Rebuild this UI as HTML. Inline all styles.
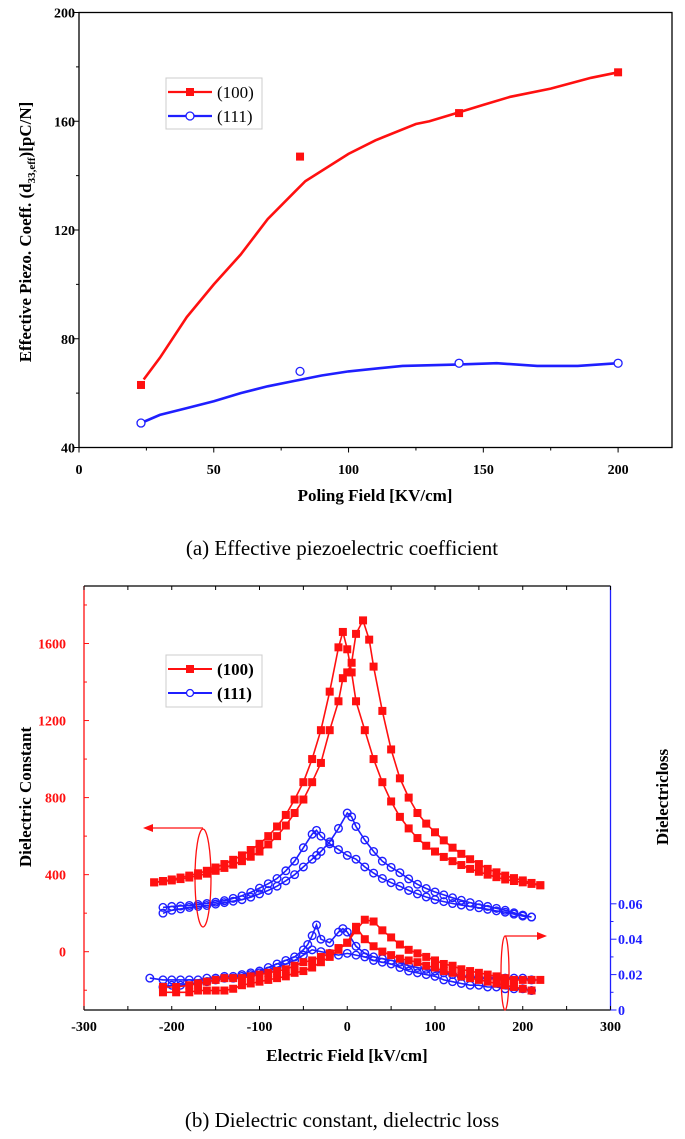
<!DOCTYPE html>
<html><head><meta charset="utf-8">
<style>
html,body{margin:0;padding:0;background:#fff;}
body{width:685px;height:1134px;overflow:hidden;font-family:"Liberation Serif",serif;}
svg text{font-family:"Liberation Serif",serif;}
</style></head>
<body>
<svg id="chart" width="685" height="1134" viewBox="0 0 685 1134" xmlns="http://www.w3.org/2000/svg">
<g id="top"></g>
<g id="bot"></g>
<text x="342" y="555" text-anchor="middle" font-size="21">(a) Effective piezoelectric coefficient</text>
<text x="342" y="1127" text-anchor="middle" font-size="21">(b) Dielectric constant, dielectric loss</text>
</svg>
<script>
// ---------- Chart (a) data ----------
const aXTicks=[0,50,100,150,200];
const aYTicks=[40,80,120,160,200];
const p100X=[23,82,141,200];
const p100Y=[63,147,163,178];
const p111X=[23,82,141,200];
const p111Y=[49,68,71,71];
const fit100X=[24,30,40,50,60,70,80,84,100,110,125,130,140,150,160,175,190,200];
const fit100Y=[65,73,88,100,111,124,134,138,148,153,159,160,163,166,169,172,176,178];
const fit111X=[23,30,40,50,60,70,80,90,100,120,140,155,170,185,200];
const fit111Y=[49,52,54.5,57,60,62.5,64.5,66.5,68,70,70.5,71,70,70,71];

// ---------- Chart (b) data ----------
const bXTicks=[-300,-200,-100,0,100,200,300];
const bYTicks=[0,400,800,1200,1600];
const bRTicks=[0,0.02,0.04,0.06];
const dc100X_A=[-220,-210,-200,-190,-180,-170,-160,-150,-140,-130,-120,-110,-100,-90,-80,-70,-60,-50,-40,-30,-20,-10,-5,0,5,10,20,30,40,50,60,70,80,90,100,110,120,130,140,150,160,170,180,190,200,210,220];
const dc100Y_A=[360,367,375,385,395,407,420,437,455,477,500,528,560,600,650,710,790,880,1000,1150,1350,1580,1660,1570,1450,1300,1150,1000,880,780,700,640,590,550,520,492,470,450,430,415,400,387,375,367,360,352,345];
const dc100X_B=[-220,-210,-200,-190,-180,-170,-160,-150,-140,-130,-120,-110,-100,-90,-80,-70,-60,-50,-40,-30,-20,-10,-5,0,5,10,18,25,30,40,50,60,70,80,90,100,110,120,130,140,150,160,170,180,190,200,210,220];
const dc100Y_B=[360,365,370,377,385,395,405,420,435,452,470,493,520,557,600,655,720,790,880,980,1150,1300,1420,1450,1500,1650,1720,1620,1480,1250,1050,900,800,720,665,620,578,540,508,480,455,430,412,395,382,370,357,345];
const dc111X_A=[-210,-200,-190,-180,-170,-160,-150,-140,-130,-120,-110,-100,-90,-80,-70,-60,-50,-40,-35,-30,-20,-10,0,10,20,30,40,50,60,70,80,90,100,110,120,130,140,150,160,170,180,190,200,210];
const dc111Y_A=[230,235,237,240,245,250,257,265,277,290,308,330,353,380,420,470,540,610,630,600,560,530,500,480,440,408,380,358,340,318,300,284,270,260,250,242,235,228,220,212,205,195,185,180];
const dc111X_B=[-210,-200,-190,-180,-170,-160,-150,-140,-130,-120,-110,-100,-90,-80,-70,-60,-50,-40,-35,-30,-20,-10,0,5,10,20,30,40,50,60,70,80,90,100,110,120,130,140,150,160,170,180,190,200,210];
const dc111Y_B=[200,215,222,230,235,240,247,255,262,270,283,300,318,340,368,400,440,480,500,520,570,640,720,700,650,580,520,470,438,410,378,350,328,310,295,280,267,255,245,235,225,215,202,190,180];
const ls100X_A=[-210,-195,-180,-170,-160,-150,-140,-130,-120,-110,-100,-90,-80,-70,-60,-50,-40,-30,-20,-10,0,10,20,30,40,50,60,70,80,90,100,110,120,130,140,150,160,170,180,190,200,210,220];
const ls100Y_A=[0.013,0.013,0.014,0.015,0.016,0.017,0.018,0.018,0.018,0.019,0.020,0.021,0.022,0.023,0.025,0.027,0.028,0.030,0.032,0.035,0.038,0.045,0.051,0.050,0.045,0.041,0.037,0.034,0.032,0.030,0.028,0.026,0.025,0.023,0.022,0.021,0.020,0.019,0.018,0.017,0.017,0.017,0.017];
const ls100X_B=[-210,-195,-180,-170,-160,-150,-140,-130,-120,-110,-100,-90,-80,-70,-60,-50,-40,-30,-20,-10,0,10,20,30,40,50,60,70,80,90,100,110,120,130,140,150,160,170,180,190,200,210];
const ls100Y_B=[0.010,0.010,0.010,0.011,0.011,0.011,0.011,0.012,0.014,0.015,0.016,0.017,0.018,0.019,0.021,0.022,0.024,0.027,0.030,0.034,0.038,0.047,0.040,0.036,0.033,0.031,0.029,0.028,0.027,0.025,0.024,0.022,0.021,0.019,0.018,0.017,0.016,0.015,0.014,0.013,0.012,0.011];
const ls111X_A=[-225,-210,-200,-190,-180,-170,-160,-150,-140,-130,-120,-110,-100,-90,-80,-70,-60,-50,-45,-40,-35,-30,-20,-10,-5,0,10,20,30,40,50,60,70,80,90,100,110,120,130,140,150,160,170,180,190,200,210];
const ls111Y_A=[0.018,0.017,0.017,0.017,0.017,0.017,0.018,0.018,0.019,0.019,0.020,0.021,0.022,0.024,0.026,0.028,0.030,0.034,0.037,0.042,0.048,0.040,0.038,0.044,0.046,0.044,0.036,0.032,0.030,0.029,0.028,0.027,0.025,0.024,0.023,0.022,0.021,0.020,0.019,0.019,0.018,0.018,0.018,0.018,0.018,0.018,0.017];
const ls111X_B=[-210,-200,-190,-180,-170,-160,-150,-140,-130,-120,-110,-100,-90,-80,-70,-60,-50,-40,-30,-20,-10,0,10,20,30,40,50,60,70,80,90,100,110,120,130,140,150,160,170,180,190,200,210];
const ls111Y_B=[0.013,0.014,0.014,0.015,0.015,0.016,0.017,0.018,0.018,0.019,0.020,0.021,0.022,0.024,0.026,0.028,0.031,0.034,0.033,0.032,0.031,0.032,0.031,0.030,0.028,0.027,0.026,0.024,0.022,0.021,0.020,0.019,0.017,0.016,0.015,0.014,0.014,0.013,0.013,0.012,0.012,0.012,0.011];

const NS="http://www.w3.org/2000/svg";
const RED="#ff1010", BLUE="#1f1fff";
function mk(parent,tag,attrs){const e=document.createElementNS(NS,tag);for(const k in attrs)e.setAttribute(k,attrs[k]);parent.appendChild(e);return e;}
function pts(xs,ys,fx,fy){return xs.map((x,i)=>fx(x).toFixed(1)+","+fy(ys[i]).toFixed(1)).join(" ");}

// ===== Chart (a) =====
(function(){
const g=document.getElementById('top');
const L=79,R=672,T=12.5,B=447.5;
const fx=v=>L+(v-0)/(220-0)*(R-L);
const fy=v=>B-(v-40)/(200-40)*(B-T);
let e=mk(g,'rect',{x:L,y:T,width:R-L,height:B-T,fill:'none',stroke:'#000','stroke-width':1.3});


for(let v=0;v<=200;v+=25){
  e=mk(g,'line',{x1:fx(v),x2:fx(v),y1:B,y2:B+(v%50?3:5),stroke:'#000','stroke-width':1});
  
  
}
aXTicks.forEach(v=>{
  e=mk(g,'text',{x:fx(v),y:474,'text-anchor':'middle','font-size':14,'font-weight':'bold'});e.textContent=v;
  
  
});
for(let v=40;v<=200;v+=20){
  e=mk(g,'line',{x1:L-(v%40?3:5),x2:L,y1:fy(v),y2:fy(v),stroke:'#000','stroke-width':1});
  
  
}
aYTicks.forEach(v=>{
  e=mk(g,'text',{x:L-4,y:fy(v)+5,'text-anchor':'end','font-size':14,'font-weight':'bold'});e.textContent=v;
  
  
});
e=mk(g,'text',{x:375,y:501,'text-anchor':'middle','font-size':17,'font-weight':'bold'});e.textContent='Poling Field [KV/cm]';


e=mk(g,'text',{x:0,y:0,'text-anchor':'middle','font-size':17,'font-weight':'bold',transform:'translate(31,232) rotate(-90)'});
e.innerHTML='Effective Piezo. Coeff. (d<tspan font-size="11" dy="4">33,eff</tspan><tspan dy="-4">)[pC/N]</tspan>';


e=mk(g,'polyline',{points:pts(fit100X,fit100Y,fx,fy),fill:'none',stroke:RED,'stroke-width':2.6});


e=mk(g,'polyline',{points:pts(fit111X,fit111Y,fx,fy),fill:'none',stroke:BLUE,'stroke-width':2.6});


p100X.forEach((x,i)=>{
  e=mk(g,'rect',{x:fx(x)-4,y:fy(p100Y[i])-4,width:8,height:8,fill:RED});
  
  
});
p111X.forEach((x,i)=>{
  e=mk(g,'circle',{cx:fx(x),cy:fy(p111Y[i]),r:4,fill:'#fff',stroke:BLUE,'stroke-width':1.3});
  
  
});
const lg=mk(g,'g',{});


mk(lg,'rect',{x:166,y:78,width:96,height:51,fill:'none',stroke:'#ccc','stroke-width':1});
mk(lg,'line',{x1:168,x2:212,y1:92,y2:92,stroke:RED,'stroke-width':2.2});
mk(lg,'rect',{x:186,y:88,width:8,height:8,fill:RED});
e=mk(lg,'text',{x:217,y:98,'font-size':17});e.textContent='(100)';


mk(lg,'line',{x1:168,x2:212,y1:116,y2:116,stroke:BLUE,'stroke-width':2.2});
mk(lg,'circle',{cx:190,cy:116,r:4,fill:'#fff',stroke:BLUE,'stroke-width':1.3});
e=mk(lg,'text',{x:217,y:122,'font-size':17});e.textContent='(111)';


})();

// ===== Chart (b) =====
(function(){
const g=document.getElementById('bot');
const L=84,R=610.5,T=586,B=1010;
const fx=v=>L+(v+300)/600*(R-L);
const fy=v=>951.7-v*(308.2/1600);
const fr=v=>B-v*(35.4/0.02);
let e;
e=mk(g,'line',{x1:L,x2:R,y1:T,y2:T,stroke:'#000','stroke-width':1.2});


e=mk(g,'line',{x1:L,x2:R,y1:B,y2:B,stroke:'#000','stroke-width':1.3});


e=mk(g,'line',{x1:L,x2:L,y1:T,y2:B,stroke:RED,'stroke-width':1.3});


e=mk(g,'line',{x1:R,x2:R,y1:T,y2:B,stroke:BLUE,'stroke-width':1.3});


for(let v=-300;v<=300;v+=50){
  e=mk(g,'line',{x1:fx(v),x2:fx(v),y1:B,y2:B-4,stroke:'#000','stroke-width':1});
  
  
  e=mk(g,'line',{x1:fx(v),x2:fx(v),y1:T,y2:T+4,stroke:'#000','stroke-width':1});
  
  
}
bXTicks.forEach(v=>{
  e=mk(g,'text',{x:fx(v),y:1031,'text-anchor':'middle','font-size':14,'font-weight':'bold'});e.textContent=v;
  
  
});
for(let v=-200;v<=1800;v+=200){
  e=mk(g,'line',{x1:L,x2:L+(v%400?3:5),y1:fy(v),y2:fy(v),stroke:RED,'stroke-width':1});
  
  
}
bYTicks.forEach(v=>{
  e=mk(g,'text',{x:L-18,y:fy(v)+5,'text-anchor':'end','font-size':14,'font-weight':'bold',fill:RED});e.textContent=v;
  
  
});
for(let v=0;v<=0.0601;v+=0.01){
  e=mk(g,'line',{x1:R,x2:R+(Math.round(v*100)%2?3:6),y1:fr(v),y2:fr(v),stroke:BLUE,'stroke-width':1});
  
  
}
bRTicks.forEach(v=>{
  e=mk(g,'text',{x:618,y:fr(v)+5,'font-size':14,'font-weight':'bold',fill:BLUE});e.textContent=v===0?'0':v.toFixed(2);
  
  
});
e=mk(g,'text',{x:347,y:1061,'text-anchor':'middle','font-size':17,'font-weight':'bold'});e.textContent='Electric Field [kV/cm]';


e=mk(g,'text',{x:0,y:0,'text-anchor':'middle','font-size':17,'font-weight':'bold',transform:'translate(31,797) rotate(-90)'});e.textContent='Dielectric Constant';


e=mk(g,'text',{x:0,y:0,'text-anchor':'middle','font-size':17,'font-weight':'bold',transform:'translate(668,797) rotate(-90)'});e.textContent='Dielectricloss';



function series(xs,ys,yf,color,shape,name){
  const sg=mk(g,'g',{});
  
  
  mk(sg,'polyline',{points:pts(xs,ys,fx,yf),fill:'none',stroke:color,'stroke-width':1.6});
  xs.forEach((x,i)=>{
    let m;
    if(shape==='sq') m=mk(sg,'rect',{x:fx(x)-4,y:yf(ys[i])-4,width:8,height:8,fill:color});
    else m=mk(sg,'circle',{cx:fx(x),cy:yf(ys[i]),r:3.8,fill:'none',stroke:color,'stroke-width':1.4});
    
    
  });
}
series(ls111X_A,ls111Y_A,fr,BLUE,'c','loss-111-a');
series(ls111X_B,ls111Y_B,fr,BLUE,'c','loss-111-b');
series(ls100X_A,ls100Y_A,fr,RED,'sq','loss-100-a');
series(ls100X_B,ls100Y_B,fr,RED,'sq','loss-100-b');
series(dc111X_A,dc111Y_A,fy,BLUE,'c','dielectric-111-a');
series(dc111X_B,dc111Y_B,fy,BLUE,'c','dielectric-111-b');
series(dc100X_A,dc100Y_A,fy,RED,'sq','dielectric-100-a');
series(dc100X_B,dc100Y_B,fy,RED,'sq','dielectric-100-b');

e=mk(g,'ellipse',{cx:203,cy:878,rx:8,ry:49,fill:'none',stroke:RED,'stroke-width':1.3});


e=mk(g,'path',{d:'M203,828 L152,828',fill:'none',stroke:RED,'stroke-width':1.3});


mk(g,'polygon',{points:'143,828 153,824 153,832',fill:RED});
e=mk(g,'ellipse',{cx:505,cy:973,rx:4,ry:37,fill:'none',stroke:RED,'stroke-width':1.3});


e=mk(g,'path',{d:'M505,936 L538,936',fill:'none',stroke:RED,'stroke-width':1.3});


mk(g,'polygon',{points:'547,936 537,932 537,940',fill:RED});

const lg=mk(g,'g',{});


mk(lg,'rect',{x:166,y:655,width:96,height:52,fill:'#fff',stroke:'#ccc','stroke-width':1});
mk(lg,'line',{x1:168,x2:212,y1:669,y2:669,stroke:RED,'stroke-width':2});
mk(lg,'rect',{x:186,y:665,width:8,height:8,fill:RED});
e=mk(lg,'text',{x:217,y:675,'font-size':17,'font-weight':'bold'});e.textContent='(100)';


mk(lg,'line',{x1:168,x2:212,y1:693,y2:693,stroke:BLUE,'stroke-width':2});
mk(lg,'circle',{cx:190,cy:693,r:3.5,fill:'#fff',stroke:BLUE,'stroke-width':1.3});
e=mk(lg,'text',{x:217,y:699,'font-size':17,'font-weight':'bold'});e.textContent='(111)';


})();
</script>
</body></html>
